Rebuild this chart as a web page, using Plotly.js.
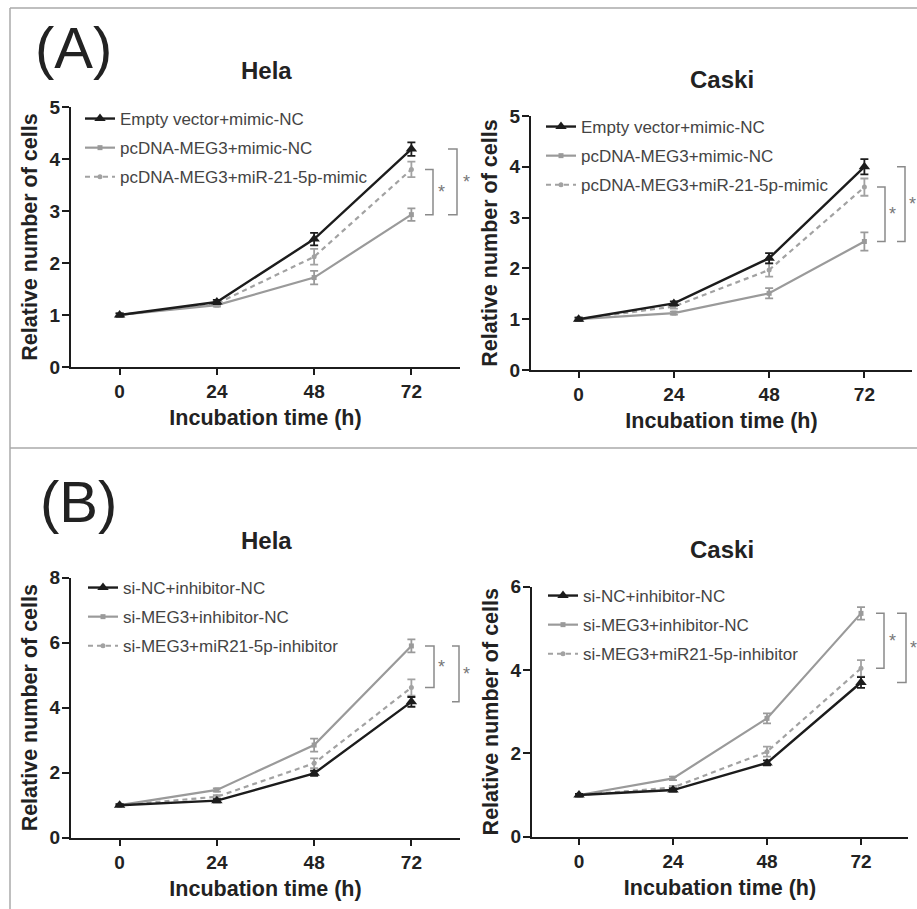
<!DOCTYPE html>
<html>
<head>
<meta charset="utf-8">
<script src="https://cdn.plot.ly/plotly-3.0.1.min.js"></script>
<style>html,body{margin:0;padding:0;background:#fff;}#chart{width:917px;height:909px;}</style>
</head>
<body>
<div id="chart"></div>
<script>
// ---------- data ----------
const hours = [0, 24, 48, 72];
const hourTicks = ['0', '24', '48', '72'];

// (A) Hela
const aHelaNames = ['Empty vector+mimic-NC', 'pcDNA-MEG3+mimic-NC', 'pcDNA-MEG3+miR-21-5p-mimic'];
const aHelaEmpty = [1.0, 1.25, 2.46, 4.19];
const aHelaEmptyErr = [0.03, 0.04, 0.12, 0.13];
const aHelaMeg3 = [1.0, 1.19, 1.72, 2.93];
const aHelaMeg3Err = [0.03, 0.03, 0.13, 0.12];
const aHelaMimic = [1.0, 1.22, 2.12, 3.80];
const aHelaMimicErr = [0.03, 0.04, 0.15, 0.15];

// (A) Caski
const aCaskiEmpty = [1.0, 1.31, 2.20, 4.00];
const aCaskiEmptyErr = [0.03, 0.04, 0.10, 0.15];
const aCaskiMeg3 = [1.0, 1.12, 1.51, 2.53];
const aCaskiMeg3Err = [0.03, 0.03, 0.10, 0.18];
const aCaskiMimic = [1.0, 1.25, 1.97, 3.60];
const aCaskiMimicErr = [0.03, 0.04, 0.13, 0.17];

// (B) Hela
const bNames = ['si-NC+inhibitor-NC', 'si-MEG3+inhibitor-NC', 'si-MEG3+miR21-5p-inhibitor'];
const bHelaNC = [1.0, 1.14, 1.98, 4.18];
const bHelaNCErr = [0.03, 0.05, 0.08, 0.15];
const bHelaMeg3 = [1.0, 1.47, 2.85, 5.90];
const bHelaMeg3Err = [0.03, 0.05, 0.20, 0.20];
const bHelaInhib = [1.0, 1.26, 2.29, 4.62];
const bHelaInhibErr = [0.03, 0.05, 0.15, 0.25];

// (B) Caski
const bCaskiNC = [1.0, 1.12, 1.77, 3.70];
const bCaskiNCErr = [0.03, 0.04, 0.06, 0.13];
const bCaskiMeg3 = [1.0, 1.40, 2.84, 5.36];
const bCaskiMeg3Err = [0.03, 0.04, 0.12, 0.15];
const bCaskiInhib = [1.0, 1.18, 2.04, 4.04];
const bCaskiInhibErr = [0.03, 0.04, 0.12, 0.20];

// ---------- styling ----------
const W = 917, H = 909;
const FONT = 'Liberation Sans, Arial, sans-serif';
const BLACK = '#1c1c1c', GRAY = '#9a9a9a', DGRAY = '#a2a2a2', BRK = '#8a8a8a';

function px(x) { return x / W; }
function py(y) { return 1 - y / H; }

const traces = [];
function addPanel(ax, legendId, names, blackY, blackE, grayY, grayE, dashY, dashE) {
  const xa = 'x' + (ax === 1 ? '' : ax), ya = 'y' + (ax === 1 ? '' : ax);
  const common = {x: hours, xaxis: xa, yaxis: ya, mode: 'lines+markers', legend: legendId, cliponaxis: false};
  traces.push(Object.assign({}, common, {
    y: grayY, name: names[1], legendgroup: legendId + 'b', legendrank: 2,
    line: {color: GRAY, width: 2.2}, marker: {symbol: 'square', size: 5, color: GRAY},
    error_y: {type: 'data', array: grayE, color: GRAY, thickness: 1.8, width: 4}
  }));
  traces.push(Object.assign({}, common, {
    y: dashY, name: names[2], legendgroup: legendId + 'c', legendrank: 3,
    line: {color: DGRAY, width: 2.2, dash: '5px,4px'}, marker: {symbol: 'circle', size: 5, color: DGRAY},
    error_y: {type: 'data', array: dashE, color: DGRAY, thickness: 1.8, width: 4}
  }));
  traces.push(Object.assign({}, common, {
    y: blackY, name: names[0], legendgroup: legendId + 'a', legendrank: 1,
    line: {color: BLACK, width: 2.4}, marker: {symbol: 'triangle-up', size: 10, color: BLACK},
    error_y: {type: 'data', array: blackE, color: BLACK, thickness: 1.8, width: 4}
  }));
}

addPanel(1, 'legend', aHelaNames, aHelaEmpty, aHelaEmptyErr, aHelaMeg3, aHelaMeg3Err, aHelaMimic, aHelaMimicErr);
addPanel(2, 'legend2', aHelaNames, aCaskiEmpty, aCaskiEmptyErr, aCaskiMeg3, aCaskiMeg3Err, aCaskiMimic, aCaskiMimicErr);
addPanel(3, 'legend3', bNames, bHelaNC, bHelaNCErr, bHelaMeg3, bHelaMeg3Err, bHelaInhib, bHelaInhibErr);
addPanel(4, 'legend4', bNames, bCaskiNC, bCaskiNCErr, bCaskiMeg3, bCaskiMeg3Err, bCaskiInhib, bCaskiInhibErr);

function xAxis(domain) {
  return {
    domain: domain, range: [-12, 84], tickvals: hours, ticktext: hourTicks,
    showline: true, linecolor: BLACK, linewidth: 2, ticks: 'outside', ticklen: 6, tickwidth: 2, tickcolor: BLACK,
    showgrid: false, zeroline: false, automargin: false, fixedrange: true,
    tickfont: {family: FONT, size: 19, color: '#222', weight: 'bold'},
    title: {text: 'Incubation time (h)', font: {family: FONT, size: 21.5, color: '#222', weight: 'bold'}, standoff: 9}
  };
}
function yAxis(domain, anchor, max, dtick) {
  return {
    domain: domain, anchor: anchor, range: [0, max], dtick: dtick,
    showline: true, linecolor: BLACK, linewidth: 2, ticks: 'outside', ticklen: 7, tickwidth: 2, tickcolor: BLACK,
    showgrid: false, zeroline: false, automargin: false, fixedrange: true, ticklabelstandoff: -2,
    tickfont: {family: FONT, size: 19, color: '#222', weight: 'bold'},
    title: {text: 'Relative number of cells', font: {family: FONT, size: 21.5, color: '#222', weight: 'bold'}, standoff: 6}
  };
}
function legendAt(xp, yp) {
  return {
    x: px(xp), y: py(yp), xanchor: 'left', yanchor: 'top', bgcolor: 'rgba(0,0,0,0)',
    font: {family: FONT, size: 17, color: '#444'}, traceorder: 'grouped', tracegroupgap: 4,
    itemclick: false, itemdoubleclick: false
  };
}

const shapes = [];
const annotations = [];
// figure frame lines
shapes.push({type: 'line', xref: 'paper', yref: 'paper', x0: px(10), x1: 1, y0: py(8), y1: py(8), line: {color: '#aaaaaa', width: 1.5}});
shapes.push({type: 'line', xref: 'paper', yref: 'paper', x0: px(10), x1: px(10), y0: py(8), y1: 0, line: {color: '#aaaaaa', width: 1.5}});
shapes.push({type: 'line', xref: 'paper', yref: 'paper', x0: px(10), x1: 1, y0: py(448), y1: py(448), line: {color: '#aaaaaa', width: 1.5}});

// significance brackets: vertical line (paper x) spanning two data values at 72 h
function bracket(yref, xv, xs, xstar, top, bottom) {
  shapes.push({
    type: 'path', xref: 'paper', yref: yref, layer: 'above',
    path: 'M ' + px(xs) + ',' + top + ' L ' + px(xv) + ',' + top + ' L ' + px(xv) + ',' + bottom + ' L ' + px(xs) + ',' + bottom,
    line: {color: BRK, width: 1.5}
  });
  annotations.push({xref: 'paper', yref: yref, x: px(xstar), y: (top + bottom) / 2, text: '*', showarrow: false,
    font: {family: FONT, size: 18, color: '#777'}, xanchor: 'center', yanchor: 'middle'});
}
const last = hours.length - 1;
bracket('y', 433, 425, 441, aHelaMimic[last], aHelaMeg3[last]);
bracket('y', 457, 448, 466, aHelaEmpty[last], aHelaMeg3[last]);
bracket('y2', 885, 877, 892, aCaskiMimic[last], aCaskiMeg3[last]);
bracket('y2', 905, 897, 912, aCaskiEmpty[last], aCaskiMeg3[last]);
bracket('y3', 434, 425, 441, bHelaMeg3[last], bHelaInhib[last]);
bracket('y3', 459, 452, 466, bHelaMeg3[last], bHelaNC[last]);
bracket('y4', 884, 876, 892, bCaskiMeg3[last], bCaskiInhib[last]);
bracket('y4', 906, 897, 913, bCaskiMeg3[last], bCaskiNC[last]);

// titles
function label(text, x, y, size, bold) {
  annotations.push({xref: 'paper', yref: 'paper', x: px(x), y: py(y), text: text, showarrow: false,
    xanchor: 'center', yanchor: 'middle', font: {family: FONT, size: size, color: '#222', weight: bold ? 'bold' : 'normal'}});
}
label('(A)', 73, 47, 58, false);
label('(B)', 78, 501, 58, false);
label('Hela', 266, 70, 24, true);
label('Caski', 722, 79, 24, true);
label('Hela', 266, 540, 24, true);
label('Caski', 722, 549, 24, true);

const layout = {
  width: W, height: H, margin: {l: 0, r: 0, t: 0, b: 0},
  paper_bgcolor: '#ffffff', plot_bgcolor: 'rgba(0,0,0,0)',
  font: {family: FONT},
  showlegend: true,
  xaxis: Object.assign(xAxis([px(71), px(460)]), {anchor: 'y'}),
  yaxis: yAxis([py(367), py(107)], 'x', 5, 1),
  xaxis2: Object.assign(xAxis([px(531), px(912)]), {anchor: 'y2'}),
  yaxis2: yAxis([py(370), py(116)], 'x2', 5, 1),
  xaxis3: Object.assign(xAxis([px(71), px(460)]), {anchor: 'y3'}),
  yaxis3: yAxis([py(837.7), py(577.7)], 'x3', 8, 2),
  xaxis4: Object.assign(xAxis([px(532), px(908)]), {anchor: 'y4'}),
  yaxis4: yAxis([py(836.7), py(586.7)], 'x4', 6, 2),
  legend: legendAt(80, 101),
  legend2: legendAt(541, 109),
  legend3: legendAt(83, 570),
  legend4: legendAt(543, 578),
  shapes: shapes,
  annotations: annotations
};

Plotly.newPlot('chart', traces, layout, {staticPlot: true, displayModeBar: false});
</script>
</body>
</html>
